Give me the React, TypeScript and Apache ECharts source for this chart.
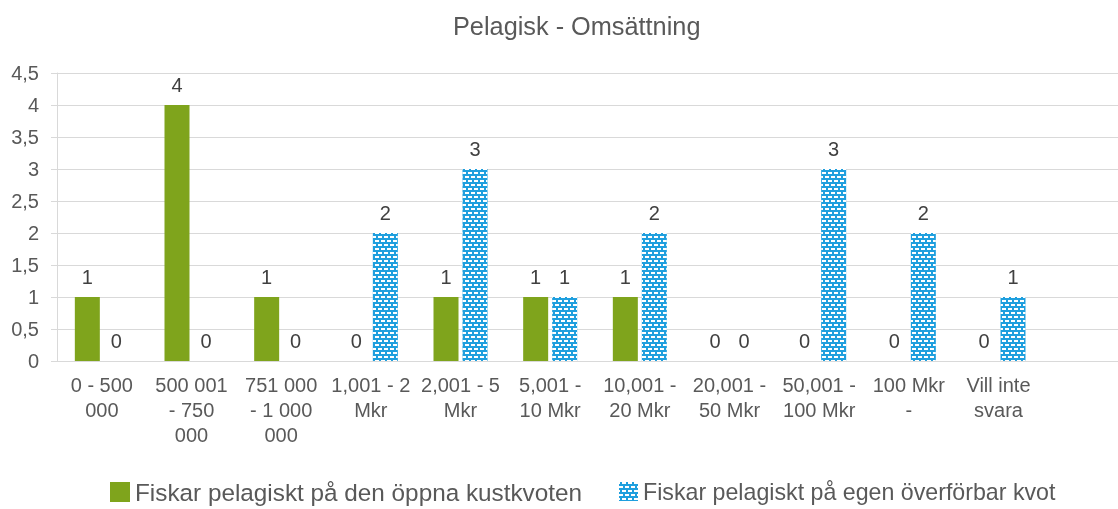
import React, { useEffect, useRef } from "react";
import * as echarts from "echarts";

const titleText = "Pelagisk - Omsättning";
const categories = [
  "0 - 500\n000",
  "500 001\n- 750\n000",
  "751 000\n- 1 000\n000",
  "1,001 - 2\nMkr",
  "2,001 - 5\nMkr",
  "5,001 -\n10 Mkr",
  "10,001 -\n20 Mkr",
  "20,001 -\n50 Mkr",
  "50,001 -\n100 Mkr",
  "100 Mkr\n-",
  "Vill inte\nsvara",
  "",
];
const seriesNames = [
  "Fiskar pelagiskt på den öppna kustkvoten",
  "Fiskar pelagiskt på egen överförbar kvot",
];
const openQuota = [1, 4, 1, 0, 1, 1, 1, 0, 0, 0, 0, null];
const ownQuota = [0, 0, 0, 2, 3, 1, 2, 0, 3, 2, 1, null];
const yTicks = { min: 0, max: 4.5, interval: 0.5 };

const FONT = "'Liberation Sans', Arial, sans-serif";
const GREEN = "#7FA41C";
const BLUE = "#1F9FDE";
const GRID = "#D9D9D9";
const TXT = "#595959";

export default function App() {
  const ref = useRef<HTMLDivElement>(null);
  useEffect(() => {
    document.body.style.margin = "0";
    document.body.style.overflow = "hidden";
    const chart = echarts.init(ref.current!, null, { renderer: "svg" });
    const decal = {
      symbol: "rect",
      symbolSize: 1,
      color: "#ffffff",
      dashArrayX: [
        [4, 2],
        [1, 2, 3, 0],
      ],
      dashArrayY: [1.5, 2],
      rotation: 0,
    };
    const label = {
      show: true,
      position: "top",
      distance: 10,
      fontSize: 20,
      color: "#404040",
      fontFamily: FONT,
    };
    chart.setOption({
      animation: false,
      textStyle: { fontFamily: FONT },
      title: {
        text: titleText,
        left: 453,
        top: 13,
        padding: 0,
        textStyle: { fontSize: 25.3, fontWeight: "normal", color: TXT, fontFamily: FONT },
      },
      legend: [
        {
          data: [seriesNames[0]],
          left: 110,
          top: 480,
          padding: 0,
          icon: "rect",
          itemWidth: 20,
          itemHeight: 20,
          textStyle: { fontSize: 24.3, color: TXT, fontFamily: FONT },
        },
        {
          data: [seriesNames[1]],
          left: 619,
          top: 480,
          padding: 0,
          icon: "rect",
          itemWidth: 19,
          itemHeight: 19,
          textStyle: { fontSize: 23.2, color: TXT, fontFamily: FONT },
        },
      ],
      grid: { left: 57, top: 73, width: 1076, height: 288, containLabel: false },
      xAxis: {
        type: "category",
        data: categories,
        axisLine: { lineStyle: { color: GRID, width: 1 } },
        axisTick: { show: false },
        axisLabel: {
          interval: 0,
          fontSize: 20,
          lineHeight: 25,
          color: TXT,
          margin: 11,
          fontFamily: FONT,
        },
      },
      yAxis: {
        type: "value",
        min: yTicks.min,
        max: yTicks.max,
        interval: yTicks.interval,
        axisLine: { show: true, lineStyle: { color: GRID, width: 1 } },
        axisTick: { show: true, length: 6, lineStyle: { color: GRID } },
        splitLine: { lineStyle: { color: GRID, width: 1 } },
        axisLabel: {
          fontSize: 20,
          color: TXT,
          margin: 18,
          fontFamily: FONT,
          formatter: (v: number) => String(v).replace(".", ","),
        },
      },
      series: [
        {
          name: seriesNames[0],
          type: "bar",
          data: openQuota,
          barWidth: 25,
          barGap: "16%",
          itemStyle: { color: GREEN },
          label,
        },
        {
          name: seriesNames[1],
          type: "bar",
          data: ownQuota,
          barWidth: 25,
          barGap: "16%",
          itemStyle: { color: BLUE, decal },
          label,
        },
      ],
    });
    return () => chart.dispose();
  }, []);
  return <div ref={ref} style={{ width: 1150, height: 509, position: "fixed", left: 0, top: 0 }} />;
}
